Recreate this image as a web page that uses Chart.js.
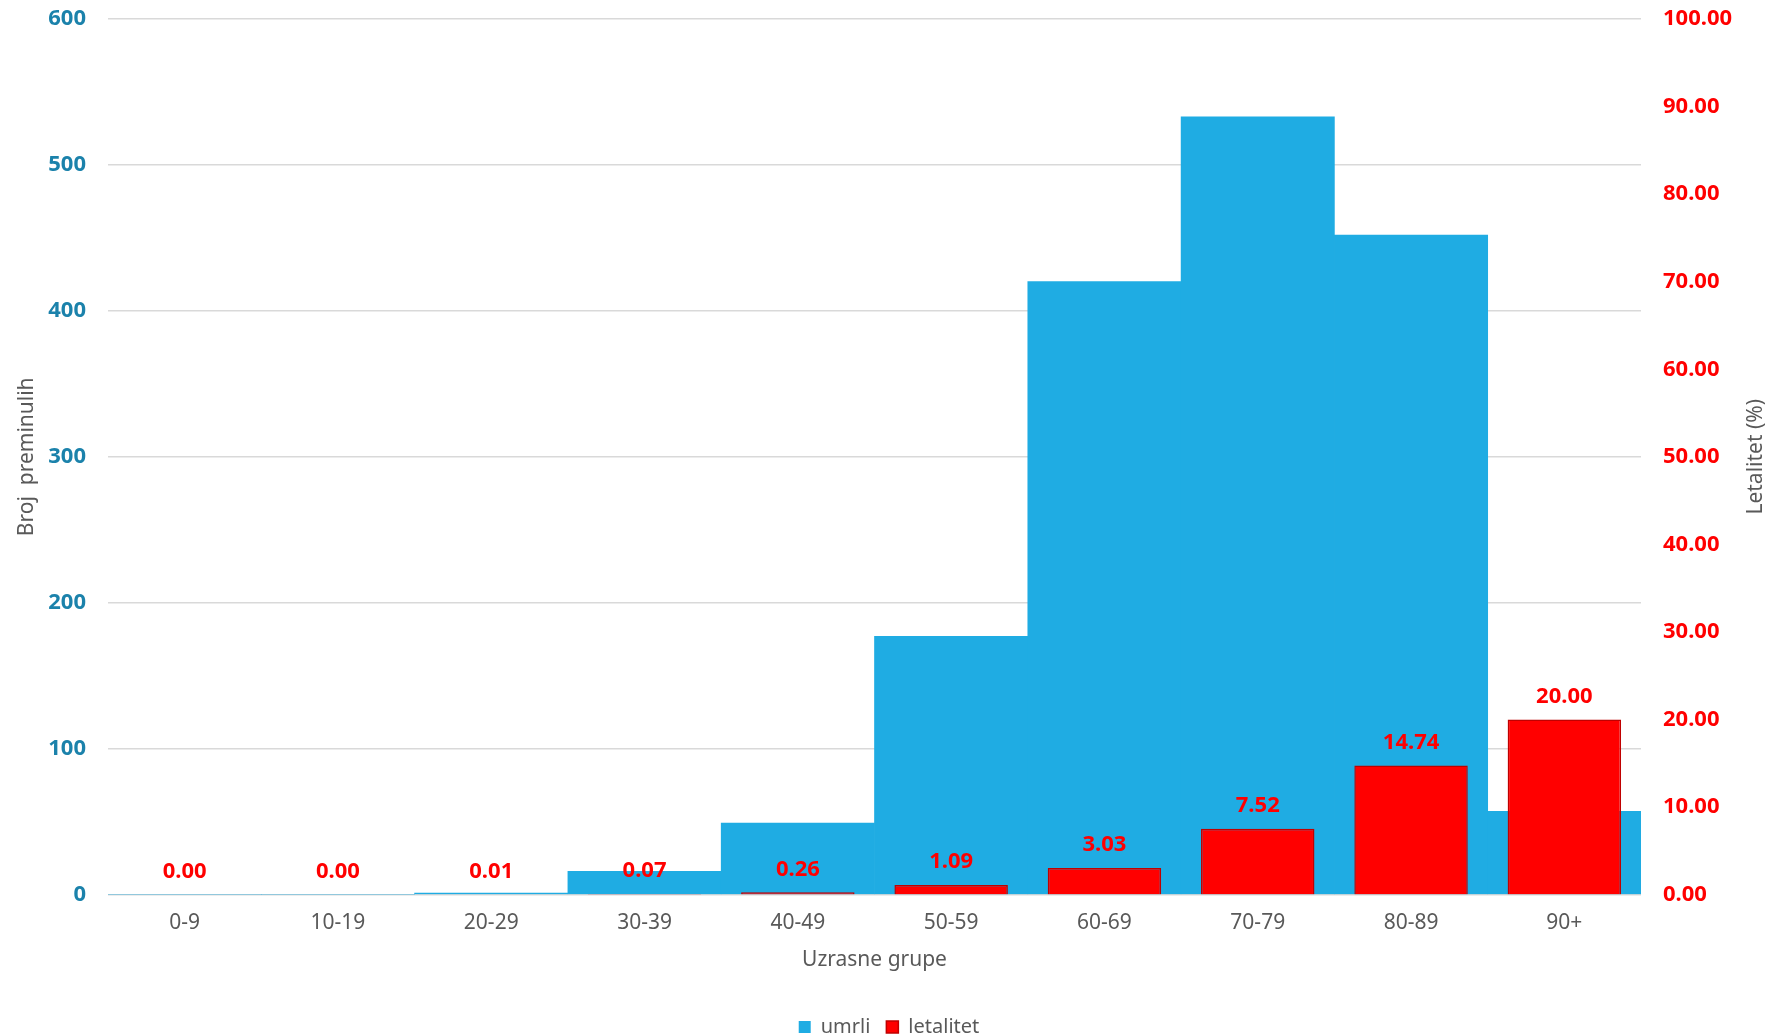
<!DOCTYPE html>
<html>
<head>
<meta charset="utf-8">
<script src="https://cdn.jsdelivr.net/npm/chart.js@4.4.1/dist/chart.umd.min.js"></script>
<style>
  html, body { margin: 0; padding: 0; background: #ffffff; }
  #wrap { width: 1778px; height: 1036px; position: relative; }
</style>
</head>
<body>
<div id="wrap"><canvas id="c" width="1778" height="1036"></canvas></div>
<script>
// ---- data ----
const categories = ['0-9', '10-19', '20-29', '30-39', '40-49', '50-59', '60-69', '70-79', '80-89', '90+'];
const umrli = [0, 0, 1, 16, 49, 177, 420, 533, 452, 57];
const letalitet = [0.00, 0.00, 0.01, 0.07, 0.26, 1.09, 3.03, 7.52, 14.74, 20.00];
const leftTicks = [0, 100, 200, 300, 400, 500, 600];
const rightTicks = [0, 10, 20, 30, 40, 50, 60, 70, 80, 90, 100];
const xTitle = 'Uzrasne grupe';
const yTitle = 'Broj  preminulih';
const y1Title = 'Letalitet (%)';
const seriesNames = ['umrli', 'letalitet'];

const FONT = "'Noto Sans', 'DejaVu Sans', sans-serif";
const GRAY = '#595959';
const BLUE_TXT = '#1b82ab';
const RED = '#ff0000';

const dataLabels = {
  id: 'dataLabels',
  afterDatasetsDraw(chart) {
    const ctx = chart.ctx;
    const meta = chart.getDatasetMeta(1);
    ctx.save();
    ctx.font = 'bold 22px ' + FONT;
    ctx.fillStyle = RED;
    ctx.textAlign = 'center';
    ctx.textBaseline = 'middle';
    meta.data.forEach((el, i) => {
      ctx.fillText(letalitet[i].toFixed(2), el.x, el.y - 23);
    });
    ctx.restore();
  }
};

const rightTitle = {
  id: 'rightTitle',
  afterDraw(chart) {
    const ctx = chart.ctx;
    const s = chart.scales.y1;
    const a = chart.chartArea;
    ctx.save();
    ctx.translate(s.right - 22, (a.top + a.bottom) / 2);
    ctx.rotate(-Math.PI / 2);
    ctx.font = '21px ' + FONT;
    ctx.fillStyle = GRAY;
    ctx.textAlign = 'center';
    ctx.textBaseline = 'middle';
    ctx.fillText(y1Title, 0, 0);
    ctx.restore();
  }
};

function noVPad(scale) { scale.paddingTop = 0; scale.paddingBottom = 0; }

new Chart(document.getElementById('c'), {
  type: 'bar',
  data: {
    labels: categories,
    datasets: [
      {
        label: seriesNames[0],
        data: umrli,
        yAxisID: 'y',
        backgroundColor: '#1face3',
        borderWidth: 0,
        barPercentage: 1,
        categoryPercentage: 1,
        grouped: false,
        order: 2
      },
      {
        label: seriesNames[1],
        data: letalitet,
        yAxisID: 'y1',
        backgroundColor: RED,
        borderColor: '#c00000',
        borderWidth: 1.5,
        barPercentage: 0.74,
        categoryPercentage: 1,
        grouped: false,
        order: 1
      }
    ]
  },
  options: {
    responsive: false,
    animation: false,
    devicePixelRatio: 1,
    layout: { padding: { top: 19, left: 0, right: 0, bottom: 0 } },
    plugins: {
      legend: {
        position: 'bottom',
        maxHeight: 35,
        labels: {
          boxWidth: 12,
          boxHeight: 12,
          padding: 16,
          color: GRAY,
          font: { family: FONT, size: 20 },
          sort: (a, b) => a.datasetIndex - b.datasetIndex
        }
      },
      tooltip: { enabled: false }
    },
    scales: {
      x: {
        grid: { display: false },
        border: { display: false },
        ticks: {
          color: GRAY,
          padding: 8,
          maxRotation: 0,
          font: { family: FONT, size: 21 }
        },
        title: {
          display: true,
          text: xTitle,
          color: GRAY,
          font: { family: FONT, size: 21 },
          padding: { top: 4, bottom: 28 }
        }
      },
      y: {
        position: 'left',
        min: 0,
        max: 600,
        afterBuildTicks(scale) { scale.ticks = leftTicks.map(v => ({ value: v })); },
        afterFit(scale) { scale.width = 108; noVPad(scale); },
        grid: { color: '#d9d9d9', lineWidth: 1.5, drawTicks: false },
        border: { display: false },
        ticks: {
          color: BLUE_TXT,
          padding: 22,
          font: { family: FONT, size: 22, weight: 'bold' },
          callback: v => String(v)
        },
        title: {
          display: true,
          text: yTitle,
          color: GRAY,
          font: { family: FONT, size: 21 },
          padding: { top: 14, bottom: 0 }
        }
      },
      y1: {
        position: 'right',
        min: 0,
        max: 100,
        afterBuildTicks(scale) { scale.ticks = rightTicks.map(v => ({ value: v })); },
        afterFit(scale) { scale.width = 137; noVPad(scale); },
        grid: { display: false, drawTicks: false },
        border: { display: false },
        ticks: {
          color: RED,
          padding: 22,
          font: { family: FONT, size: 22, weight: 'bold' },
          callback: v => Number(v).toFixed(2)
        },
        title: { display: false }
      }
    }
  },
  plugins: [dataLabels, rightTitle]
});
</script>
</body>
</html>
